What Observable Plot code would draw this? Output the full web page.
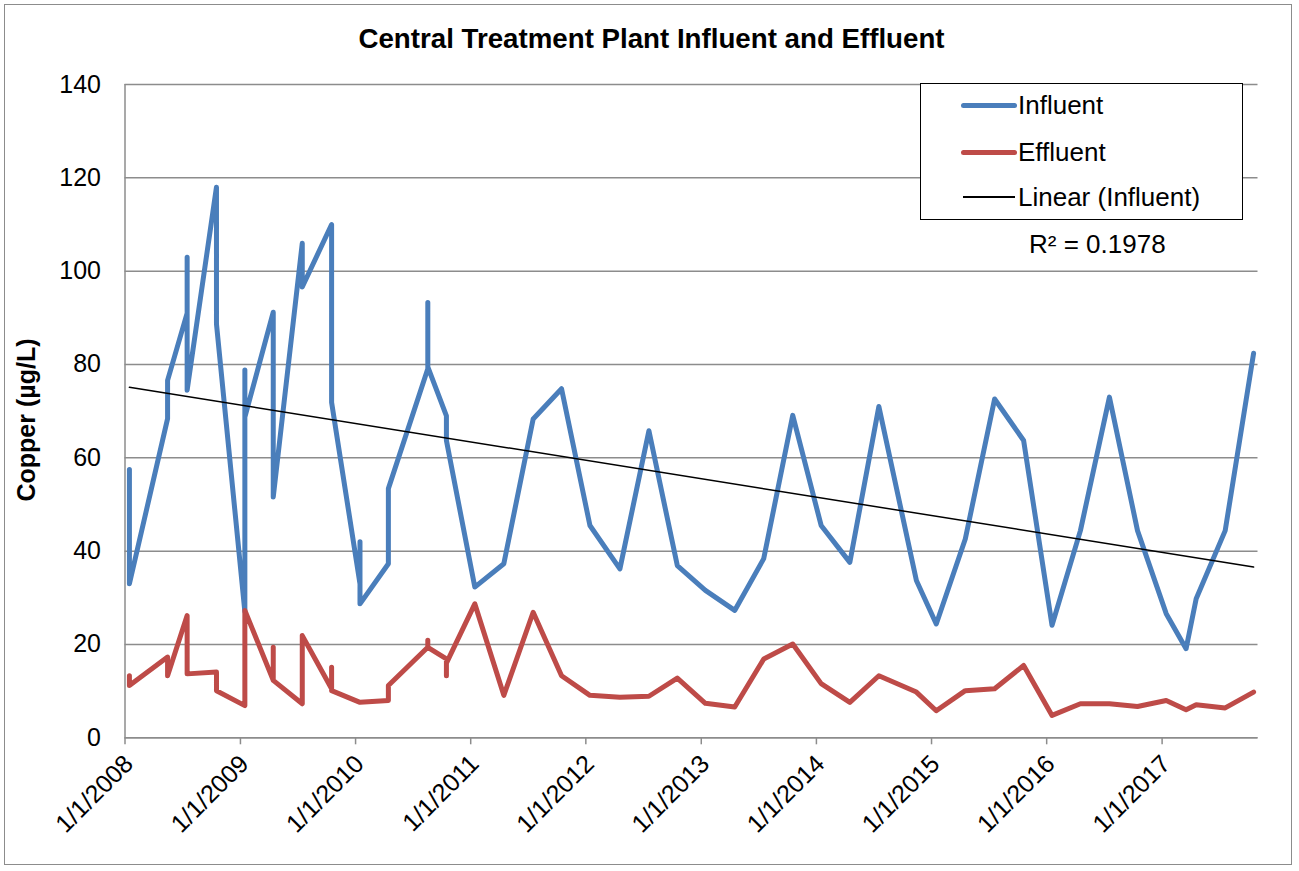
<!DOCTYPE html>
<html>
<head>
<meta charset="utf-8">
<script src="https://cdn.jsdelivr.net/npm/d3@7"></script>
<script src="https://cdn.jsdelivr.net/npm/@observablehq/plot@0.6"></script>
<style>
  html, body { margin: 0; padding: 0; background: #fff; }
  #wrap { position: relative; width: 1299px; height: 871px; font-family: "Liberation Sans", Arial, sans-serif; overflow: hidden; }
  #frame { position: absolute; left: 4px; top: 4px; width: 1288px; height: 861px; border: 1.5px solid #8c8c8c; box-sizing: border-box; pointer-events: none; }
  #chart { position: absolute; left: 0; top: 0; }
  #title { position: absolute; left: 2px; width: 1299px; top: 23px; text-align: center; font-weight: bold; font-size: 27.7px; line-height: 32px; color: #000; }
  #ylab { position: absolute; left: 26px; top: 420px; transform: translate(-50%, -50%) rotate(-90deg); font-weight: bold; font-size: 25px; white-space: nowrap; }
  #legend { position: absolute; left: 920px; top: 83px; width: 323px; height: 137px; border: 1.5px solid #000; box-sizing: border-box; background: #fff; }
  .swatch { position: absolute; left: 40px; width: 56px; border-radius: 3px; }
  .ltext { position: absolute; left: 97px; font-size: 26px; line-height: 30px; white-space: nowrap; }
  #r2 { position: absolute; left: 1029px; top: 229px; font-size: 26px; line-height: 30px; white-space: nowrap; }
</style>
</head>
<body>
<div id="wrap">
  <div id="chart"></div>
  <div id="title">Central Treatment Plant Influent and Effluent</div>
  <div id="ylab">Copper (µg/L)</div>
  <div id="legend">
    <div class="swatch" style="top:19px;height:5px;background:#4A7EBB"></div><div class="ltext" style="top:6px">Influent</div>
    <div class="swatch" style="top:66px;height:5px;background:#BE4B48"></div><div class="ltext" style="top:53px">Effluent</div>
    <div class="swatch" style="top:112px;height:1.5px;left:42px;width:52px;border-radius:0;background:#000"></div><div class="ltext" style="top:98px">Linear (Influent)</div>
  </div>
  <div id="r2">R² = 0.1978</div>
  <div id="frame"></div>
</div>
<script>
// ---- data ----
const influentDates = [
  "2008-01-15","2008-01-15","2008-05-15","2008-05-15","2008-07-16","2008-07-16","2008-07-16",
  "2008-10-17","2008-10-17","2009-01-15","2009-01-15","2009-01-15","2009-04-15","2009-04-15",
  "2009-07-16","2009-07-16","2009-10-17","2009-10-17","2010-01-15","2010-01-15","2010-01-15",
  "2010-04-15","2010-04-15","2010-04-15","2010-08-18","2010-08-18","2010-08-18","2010-10-16","2010-10-16",
  "2011-01-14","2011-04-16","2011-07-18","2011-10-16","2012-01-14","2012-04-18","2012-07-19","2012-10-17",
  "2013-01-14","2013-04-17","2013-07-18","2013-10-18","2014-01-16","2014-04-17","2014-07-18","2014-11-14",
  "2015-01-16","2015-04-18","2015-07-20","2015-10-20","2016-01-18","2016-04-17","2016-07-18","2016-10-15",
  "2017-01-14","2017-03-18","2017-04-19","2017-07-20","2017-10-18"
];
const influentValues = [
  57.5, 33, 68.4, 76.6, 91, 103, 74.5,
  118, 88.7, 27, 78.8, 68.7, 91.2, 51.6,
  106, 96.6, 110, 71.9, 33, 42, 28.7,
  37.3, 45.9, 53.4, 79.1, 93.3, 79.5, 69, 63.7,
  32.3, 37.3, 68.3, 74.8, 45.5, 36.2, 65.8, 36.9,
  31.6, 27.3, 38.4, 69.1, 45.5, 37.6, 71, 33.7,
  24.4, 42.6, 72.6, 63.7, 24.1, 44.4, 73, 44.4,
  26.6, 19.1, 29.8, 44.4, 82.4
];
const effluentDates = [
  "2008-01-15","2008-01-15","2008-05-15","2008-05-15","2008-07-16","2008-07-16",
  "2008-10-17","2008-10-17","2009-01-15","2009-01-15","2009-04-15","2009-04-15","2009-04-15",
  "2009-07-16","2009-07-16","2009-10-17","2009-10-17","2009-10-17","2010-01-15",
  "2010-04-15","2010-04-15","2010-08-18","2010-08-18","2010-08-18","2010-10-16","2010-10-16","2010-10-16",
  "2011-01-14","2011-04-16","2011-07-18","2011-10-16","2012-01-14","2012-04-18","2012-07-19","2012-10-17",
  "2013-01-14","2013-04-17","2013-07-18","2013-10-18","2014-01-16","2014-04-17","2014-07-18","2014-11-14",
  "2015-01-16","2015-04-18","2015-07-20","2015-10-20","2016-01-18","2016-04-17","2016-07-18","2016-10-15",
  "2017-01-14","2017-03-18","2017-04-19","2017-07-20","2017-10-18"
];
const effluentValues = [
  13.3, 11.2, 17.3, 13.3, 26.2, 13.7,
  14.1, 10.1, 6.9, 27.3, 12.3, 19.4, 12.3,
  7.3, 21.9, 10.5, 15.1, 10.1, 7.6,
  8, 11.2, 19.4, 20.9, 19.4, 16.9, 13.3, 16,
  28.7, 9.1, 26.9, 13.3, 9.1, 8.7, 8.9, 12.8,
  7.4, 6.6, 16.9, 20.1, 11.6, 7.6, 13.3, 9.8,
  5.8, 10.1, 10.5, 15.5, 4.8, 7.3, 7.3, 6.7,
  8, 6, 7.1, 6.4, 9.8
];
// Linear (Influent) trendline as drawn in the reference (endpoints)
const trendDates = ["2008-01-15", "2017-10-18"];
const trendValues = [75.1, 36.6];
const yTicks = [0, 20, 40, 60, 80, 100, 120, 140];
const xTickLabels = ["1/1/2008","1/1/2009","1/1/2010","1/1/2011","1/1/2012","1/1/2013","1/1/2014","1/1/2015","1/1/2016","1/1/2017"];
const xDomain = ["2008-01-01", "2017-11-01"];

// ---- build tables ----
const parse = d3.utcParse("%Y-%m-%d");
const influent = influentDates.map((d, i) => ({date: parse(d), value: influentValues[i]}));
const effluent = effluentDates.map((d, i) => ({date: parse(d), value: effluentValues[i]}));
const trend = trendDates.map((d, i) => ({date: parse(d), value: trendValues[i]}));
const xTicks = xTickLabels.map(s => { const [m, d, y] = s.split("/").map(Number); return new Date(Date.UTC(y, m - 1, d)); });
const labelOf = new Map(xTicks.map((t, i) => [+t, xTickLabels[i]]));

const gray = "#8c8c8c";
const chart = Plot.plot({
  width: 1299,
  height: 871,
  marginLeft: 124.5,
  marginRight: 41.5,
  marginTop: 84,
  marginBottom: 133.7,
  style: {fontFamily: "'Liberation Sans', Arial, sans-serif", background: "transparent", overflow: "visible"},
  x: {type: "utc", domain: xDomain.map(parse), label: null},
  y: {type: "linear", domain: [0, 140], label: null},
  marks: [
    Plot.gridY(yTicks, {stroke: gray, strokeOpacity: 1, strokeWidth: 1.5}),
    Plot.ruleX([parse(xDomain[0])], {stroke: gray, strokeWidth: 1.5}),
    Plot.axisY(yTicks, {tickSize: 0, tickPadding: 24, fontSize: 25, fill: "#000", label: null}),
    Plot.axisX(xTicks, {tickSize: 7, stroke: gray, strokeWidth: 1.5, tickFormat: () => "", label: null}),
    Plot.axisX(xTicks, {tickSize: 0, tickRotate: -45, fontSize: 25, dx: 4, dy: 10, tickFormat: t => labelOf.get(+t), fill: "#000", label: null}),
    Plot.line(influent, {x: "date", y: "value", stroke: "#4A7EBB", strokeWidth: 5, strokeLinejoin: "round", strokeLinecap: "round"}),
    Plot.line(effluent, {x: "date", y: "value", stroke: "#BE4B48", strokeWidth: 5, strokeLinejoin: "round", strokeLinecap: "round"}),
    Plot.line(trend, {x: "date", y: "value", stroke: "#000", strokeWidth: 1.5}),
    Plot.ruleY([0], {stroke: gray, strokeWidth: 1.5})
  ]
});
document.getElementById("chart").appendChild(chart);
</script>
</body>
</html>
